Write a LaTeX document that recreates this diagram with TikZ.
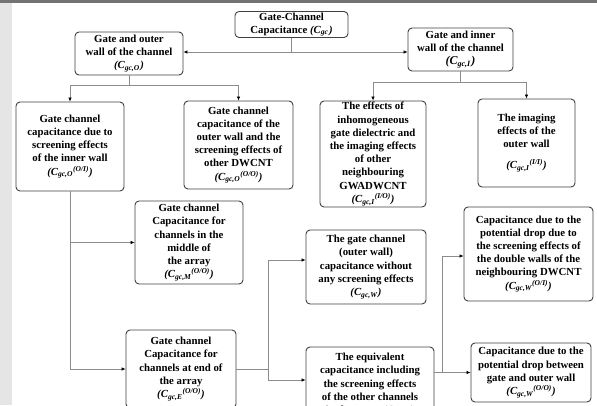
\documentclass[tikz,border=0pt]{standalone}
\usepackage{amsmath}
\usepackage{fontspec}
\setmainfont{Liberation Serif}
\usepackage{tikz}
\usetikzlibrary{arrows.meta,positioning,calc}
\newcommand{\capsym}[2]{\textit{(C\textsubscript{#1}\textsuperscript{#2})}}

\begin{document}
\begin{tikzpicture}[x=1pt, y=-1pt,
		capbox/.style={draw=black!75, line width=0.9pt, rounded corners=4pt, fill=white,
			align=center, inner sep=1pt, font=\fontsize{10.8}{13.2}\selectfont\bfseries},
		link/.style={draw=black!45, line width=0.6pt},
		arr/.style={link, -{Latex[length=4pt,width=3.5pt,color=black]}}]
		\useasboundingbox (0,0) rectangle (597,405);
		\clip (0,0) rectangle (597,405);
		% scan edges
		\fill[black!10] (0,0) rectangle (12,405);
		\fill[black!55] (0,0) rectangle (597,3);
		% top levels
		\node[capbox, minimum width=113pt, minimum height=25pt] (gc) at (291.5,24.5) {Gate-Channel\\Capacitance \capsym{gc}{}};
		\node[capbox, minimum width=108pt, minimum height=43pt] (outer) at (129,53.5) {Gate and outer\\wall of the channel\\\capsym{gc,O}{}};
		\node[capbox, minimum width=105pt, minimum height=43pt] (inner) at (460.5,49.5) {Gate and inner\\wall of the channel\\{\large\capsym{gc,I}{}}};
		% second row
		\node[capbox, minimum width=108pt, minimum height=89pt] (scrI) at (70,146.5) {Gate channel\\capacitance due to\\screening effects\\of the inner wall\\\capsym{gc,O}{(O/I)}};
		\node[capbox, minimum width=109pt, minimum height=88pt] (scrO) at (238.5,145) {Gate channel\\capacitance of the\\outer wall and the\\screening effects of\\other DWCNT\\\capsym{gc,O}{(O/O)}};
		\node[capbox, minimum width=106pt, minimum height=106pt] (inhom) at (373,154) {The effects of\\inhomogeneous\\gate dielectric and\\the imaging effects\\of other\\neighbouring\\GWADWCNT\\\capsym{gc,I}{(I/O)}};
		\node[capbox, minimum width=97pt, minimum height=88pt] (imag) at (526.5,143) {The imaging\\effects of the\\outer wall\\[8pt]\capsym{gc,I}{(I/I)}};
		% lower part
		\node[capbox, minimum width=108pt, minimum height=83pt] (mid) at (189,242.5) {Gate channel\\Capacitance for\\channels in the\\middle of\\the array\\\capsym{gc,M}{(O/O)}};
		\node[capbox, minimum width=120pt, minimum height=74pt] (noscr) at (366,267) {The gate channel\\(outer wall)\\capacitance without\\any screening effects\\\capsym{gc,W}{}};
		\node[capbox, minimum width=129pt, minimum height=94pt] (dbl) at (528.5,254) {Capacitance due to the\\potential drop due to\\the screening effects of\\the double walls of the\\neighbouring DWCNT\\\capsym{gc,W}{(O/I)}};
		\node[capbox, minimum width=110pt, minimum height=78pt] (endarr) at (181,369) {Gate channel\\Capacitance for\\channels at end of\\the array\\\capsym{gc,E}{(O/O)}};
		\node[capbox, minimum width=128pt, minimum height=76pt] (equiv) at (370,385) {The equivalent\\capacitance including\\the screening effects\\of the other channels\\in the array \capsym{gc,eq}{}};
		\node[capbox, minimum width=120pt, minimum height=59pt] (drop) at (531,372.5) {Capacitance due to the\\potential drop between\\gate and outer wall\\\capsym{gc,W}{(O/O)}};
		% junctions
		\coordinate (jgc) at (291.5,52);
		\coordinate (jo) at (129,85);
		\coordinate (ji) at (460.5,82);
		\coordinate (jF) at (268,260);
		\coordinate (jI) at (268,380);
		\coordinate (jG) at (442,256);
		\coordinate (jJ) at (442,372.5);
		% connectors
		\draw[link] (gc.south) -- (jgc);
		\draw[arr] (jgc) -- (jgc -| outer.east);
		\draw[arr] (jgc) -- (jgc -| inner.west);
		\draw[link] (outer.south) -- (jo);
		\draw[arr] (jo) -| (scrI.north);
		\draw[arr] (jo) -| (scrO.north);
		\draw[link] (inner.south) -- (ji);
		\draw[arr] (ji) -| (inhom.north);
		\draw[arr] (ji) -| (imag.north);
		\draw[link] (scrI.south) -- (scrI.south |- endarr.west);
		\draw[arr] (scrI.south |- mid.west) -- (mid.west);
		\draw[arr] (scrI.south |- endarr.west) -- (endarr.west);
		\draw[link] (endarr.east) -- (endarr.east -| jF);
		\draw[link] (jF) -- (jI);
		\draw[arr] (jF) -- (jF -| noscr.west);
		\draw[arr] (jI) -- (jI -| equiv.west);
		\draw[arr] (drop.west -| equiv.east) -- (drop.west);
		\draw[link] (jJ) -- (jG);
		\draw[arr] (jG) -- (jG -| dbl.west);
	\end{tikzpicture}
\end{document}
